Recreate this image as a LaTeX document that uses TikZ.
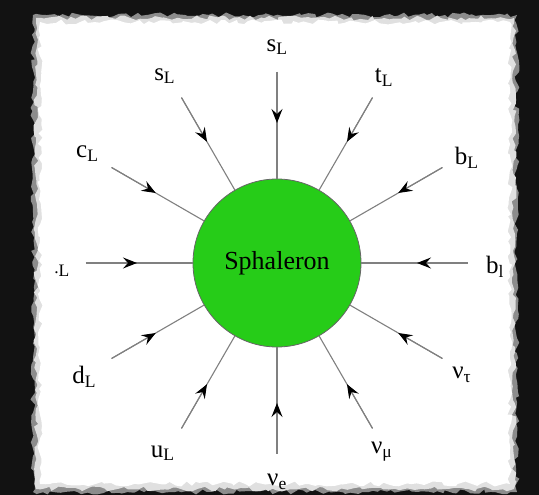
\documentclass[tikz,border=0pt]{standalone}
\usepackage{fontspec}
\setmainfont{Liberation Serif}
\usetikzlibrary{arrows.meta,decorations.pathmorphing}
\definecolor{sphgreen}{RGB}{38,204,24}

\begin{document}
\begin{tikzpicture}[x=1pt,y=1pt,
  leg/.style={draw=black!50,line width=1.1pt},
  arr/.style={-{Stealth[length=14pt,width=11pt,inset=5pt,color=black]},draw=black!50,line width=1.1pt},
  lab/.style={font=\fontsize{25}{28}\selectfont,inner sep=0pt},
  torn/.style={decorate,decoration={random steps,segment length=5pt,amplitude=2.5pt}}]
  \useasboundingbox (-277,-232) rectangle (262,263);
  % dark frame and torn paper
  \fill[black!93] (-277,-232) rectangle (262,263);
  \fill[black!45,torn] (-244,-229) rectangle (240,248);
  \fill[black!12,torn] (-241,-226) rectangle (237,245);
  \fill[white,torn] (-237,-221) rectangle (233,241);
  % blob
  \node[circle,fill=sphgreen,draw=black!60,line width=0.8pt,minimum size=168pt,inner sep=0pt,
        font=\fontsize{26}{30}\selectfont] (s) at (0,0) {Sphaleron};
  % incoming legs
  \foreach \a in {0,30,...,330}{
    \coordinate (o\a) at (\a:191);
    \coordinate (m\a) at (\a:140);
    \draw[leg] (o\a) -- (s.\a);
    \draw[arr] (o\a) -- (m\a);
  }
  % particle labels
  \foreach \a/\r/\t in {90/216/s\textsubscript{L}, 121/218/s\textsubscript{L}, 60/214/t\textsubscript{L},
      150/219/c\textsubscript{L}, 29/217/b\textsubscript{L}, 182/215/\textsubscript{\raisebox{.35ex}{.}L},
      -1/218/b\textsubscript{l}, 210.6/224/d\textsubscript{L}, 328.8/216/ν\textsubscript{τ},
      239/222/u\textsubscript{L}, 299/216/ν\textsubscript{μ}, 270/219/ν\textsubscript{e}}
    \node[lab] (l\a) at (\a:\r) {\t};
\end{tikzpicture}
\end{document}
